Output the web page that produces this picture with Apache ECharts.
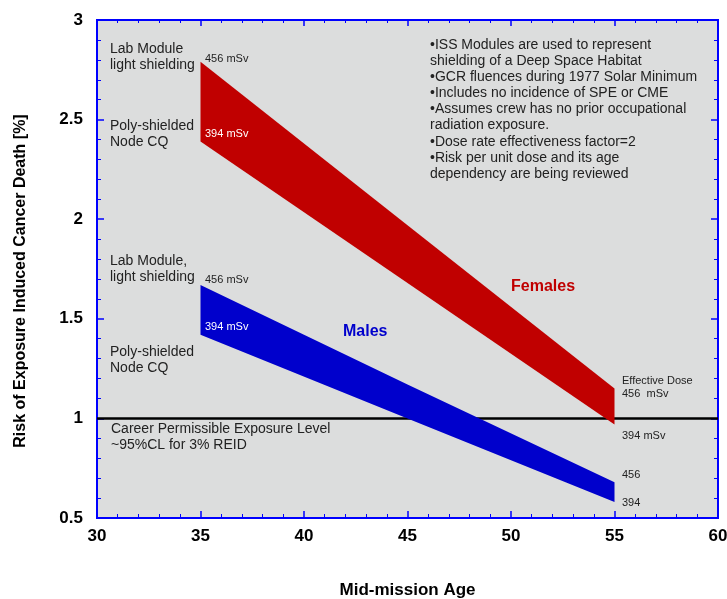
<!DOCTYPE html>
<html>
<head>
<meta charset="utf-8">
<script src="https://cdn.jsdelivr.net/npm/echarts@6/dist/echarts.min.js"></script>
<style>
html,body{margin:0;padding:0;background:#fff;}
#chart{width:727px;height:599px;}
</style>
</head>
<body>
<div id="chart"></div>
<script>
// Data
const ages = [35, 45, 55];
const femaleHigh = [2.79, 1.97, 1.15]; // 456 mSv (Lab Module, light shielding)
const femaleLow  = [2.39, 1.68, 0.97]; // 394 mSv (Poly-shielded Node CQ)
const maleHigh   = [1.67, 1.17, 0.68];
const maleLow    = [1.42, 1.00, 0.58];
const limitAges  = [30, 60];
const limitValue = [1, 1];
const xTicks = [30, 35, 40, 45, 50, 55, 60];
const yTicks = [0.5, 1, 1.5, 2, 2.5, 3];

const FONT = 'Arial, "Liberation Sans", sans-serif';
const AXIS_BLUE = '#0000ff';
const RED = '#c00000';
const BLUE = '#0000cc';

const chart = echarts.init(document.getElementById('chart'), null, {renderer: 'canvas'});

function bandSeries(name, low, high, color) {
  return {
    type: 'custom', name: name, z: 3, silent: true,
    data: ages.map((a, i) => [a, low[i], high[i]]),
    encode: {x: 0, y: [1, 2]},
    renderItem: function (params, api) {
      if (params.dataIndex !== 0) return null;
      const upper = ages.map((a, i) => api.coord([a, high[i]]));
      const lower = ages.map((a, i) => api.coord([a, low[i]])).reverse();
      return {
        type: 'polygon',
        shape: {points: upper.concat(lower)},
        style: {fill: color, stroke: null}
      };
    }
  };
}

const commonTick = {show: true, inside: true, length: 7, lineStyle: {color: AXIS_BLUE, width: 1.5}};
const commonMinor = {show: true, splitNumber: 5, length: 4, lineStyle: {color: AXIS_BLUE, width: 1}};

const option = {
  animation: false,
  backgroundColor: '#ffffff',
  grid: {
    left: 97, top: 20, right: 9, bottom: 81,
    containLabel: false, outerBoundsMode: 'none',
    show: true, backgroundColor: '#dcdddd', borderColor: AXIS_BLUE, borderWidth: 2
  },
  xAxis: [
    {
      type: 'value', position: 'bottom',
      min: xTicks[0], max: xTicks[xTicks.length - 1], interval: 5,
      axisLine: {show: true, lineStyle: {color: AXIS_BLUE, width: 2}},
      axisTick: commonTick, minorTick: commonMinor,
      splitLine: {show: false},
      axisLabel: {color: '#000', fontFamily: FONT, fontWeight: 'bold', fontSize: 17, margin: 10},
      name: 'Mid-mission Age', nameLocation: 'middle', nameGap: 64,
      nameTextStyle: {color: '#000', fontFamily: FONT, fontWeight: 'bold', fontSize: 17}
    },
    {
      type: 'value', position: 'top',
      min: xTicks[0], max: xTicks[xTicks.length - 1], interval: 5,
      axisLine: {show: true, lineStyle: {color: AXIS_BLUE, width: 2}},
      axisTick: {show: true, inside: true, length: 6, lineStyle: {color: AXIS_BLUE, width: 1.5}},
      minorTick: {show: true, splitNumber: 5, length: 3, lineStyle: {color: AXIS_BLUE, width: 1}},
      splitLine: {show: false}, axisLabel: {show: false}
    }
  ],
  yAxis: [
    {
      type: 'value', position: 'left',
      min: yTicks[0], max: yTicks[yTicks.length - 1], interval: 0.5,
      axisLine: {show: true, lineStyle: {color: AXIS_BLUE, width: 2}},
      axisTick: commonTick, minorTick: commonMinor,
      splitLine: {show: false},
      axisLabel: {color: '#000', fontFamily: FONT, fontWeight: 'bold', fontSize: 17, margin: 14}
    },
    {
      type: 'value', position: 'right',
      min: yTicks[0], max: yTicks[yTicks.length - 1], interval: 0.5,
      axisLine: {show: true, lineStyle: {color: AXIS_BLUE, width: 2}},
      axisTick: commonTick, minorTick: commonMinor,
      splitLine: {show: false}, axisLabel: {show: false}
    }
  ],
  series: [
    {
      type: 'line', z: 2, silent: true,
      data: limitAges.map((a, i) => [a, limitValue[i]]),
      symbol: 'none', lineStyle: {color: '#000', width: 2.5}
    },
    bandSeries('Females', femaleLow, femaleHigh, RED),
    bandSeries('Males', maleLow, maleHigh, BLUE)
  ],
  graphic: [
    {type: 'text', rotation: Math.PI / 2, x: 21, y: 281, z: 10,
      style: {text: 'Risk of Exposure Induced Cancer Death [%]', fill: '#000',
        font: 'bold 16px ' + FONT, align: 'center', verticalAlign: 'middle'}},
    {type: 'text', left: 110, top: 41, z: 10,
      style: {text: 'Lab Module\nlight shielding', fill: '#222', font: '14px ' + FONT, lineHeight: 16}},
    {type: 'text', left: 110, top: 118, z: 10,
      style: {text: 'Poly-shielded\nNode CQ', fill: '#222', font: '14px ' + FONT, lineHeight: 16}},
    {type: 'text', left: 110, top: 253, z: 10,
      style: {text: 'Lab Module,\nlight shielding', fill: '#222', font: '14px ' + FONT, lineHeight: 16}},
    {type: 'text', left: 110, top: 344, z: 10,
      style: {text: 'Poly-shielded\nNode CQ', fill: '#222', font: '14px ' + FONT, lineHeight: 16}},
    {type: 'text', left: 111, top: 421, z: 10,
      style: {text: 'Career Permissible Exposure Level\n~95%CL for 3% REID', fill: '#222', font: '14px ' + FONT, lineHeight: 16}},
    {type: 'text', left: 205, top: 53, z: 10,
      style: {text: '456 mSv', fill: '#222', font: '11px ' + FONT}},
    {type: 'text', left: 205, top: 128, z: 10,
      style: {text: '394 mSv', fill: '#ffffff', font: '11px ' + FONT}},
    {type: 'text', left: 205, top: 274, z: 10,
      style: {text: '456 mSv', fill: '#222', font: '11px ' + FONT}},
    {type: 'text', left: 205, top: 321, z: 10,
      style: {text: '394 mSv', fill: '#ffffff', font: '11px ' + FONT}},
    {type: 'text', left: 343, top: 324, z: 10,
      style: {text: 'Males', fill: BLUE, font: 'bold 16px ' + FONT}},
    {type: 'text', left: 511, top: 279, z: 10,
      style: {text: 'Females', fill: RED, font: 'bold 16px ' + FONT}},
    {type: 'text', left: 430, top: 37, z: 10,
      style: {text: '•ISS Modules are used to represent\nshielding of a Deep Space Habitat\n•GCR fluences during 1977 Solar Minimum\n•Includes no incidence of SPE or CME\n•Assumes crew has no prior occupational\nradiation exposure.\n•Dose rate effectiveness factor=2\n•Risk per unit dose and its age\ndependency are being reviewed',
        fill: '#222', font: '14px ' + FONT, lineHeight: 16.1}},
    {type: 'text', left: 622, top: 374, z: 10,
      style: {text: 'Effective Dose\n456  mSv', fill: '#222', font: '11px ' + FONT, lineHeight: 13}},
    {type: 'text', left: 622, top: 430, z: 10,
      style: {text: '394 mSv', fill: '#222', font: '11px ' + FONT}},
    {type: 'text', left: 622, top: 469, z: 10,
      style: {text: '456', fill: '#222', font: '11px ' + FONT}},
    {type: 'text', left: 622, top: 497, z: 10,
      style: {text: '394', fill: '#222', font: '11px ' + FONT}}
  ]
};

chart.setOption(option);
</script>
</body>
</html>
